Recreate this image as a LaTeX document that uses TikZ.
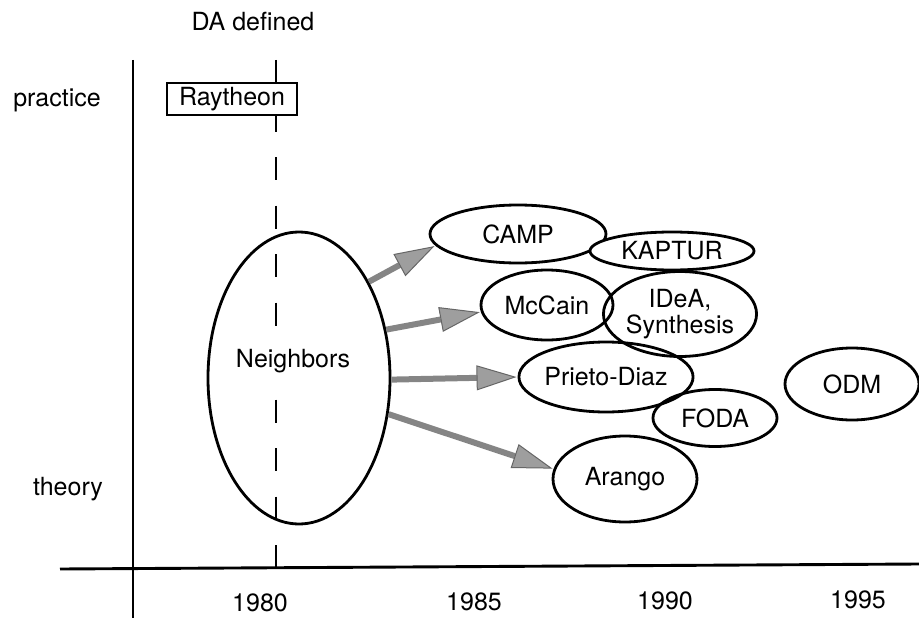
\documentclass[tikz,border=0pt]{standalone}
\usepackage{fontspec}
\setmainfont{TeX Gyre Heros}
\usetikzlibrary{shapes.geometric,arrows.meta}
\tikzset{
  lbl/.style={font=\fontsize{25}{30}\selectfont, inner sep=1pt},
  oval/.style={ellipse, draw, line width=2.8pt, inner sep=0pt, font=\fontsize{25}{30}\selectfont, align=center},
  axis/.style={line width=2.9pt},
  flow/.style={line width=6pt, draw=black!48, -{Triangle[length=40pt,width=25pt,fill=black!38,color=black!60,line width=1pt]}, shorten >=1pt, shorten <=0pt},
}
\begin{document}
\begin{tikzpicture}[x=1pt,y=-1pt]
\useasboundingbox (0,0) rectangle (919,618);
% axes
\coordinate (vtop) at (133,60);
\coordinate (vbot) at (133,618);
\coordinate (hl) at (60,569);
\coordinate (hr) at (919,564);
\draw[axis] (vtop) -- (vbot);
\draw[axis] (hl) -- (hr);
% DA defined dashed line
\coordinate (dtop) at (276,60);
\coordinate (dbot) at (276,568);
\draw[line width=2.9pt, dash pattern=on 23pt off 25.5pt] (dtop) -- (dbot);
\node[lbl] (da) at (253,22) {DA defined};
% side labels
\node[lbl] (prac) at (57,100) {practice};
\node[lbl] (theo) at (68,489) {theory};
% years
\node[lbl] (y80) at (260,603) {1980};
\node[lbl] (y85) at (474,602) {1985};
\node[lbl] (y90) at (665,601) {1990};
\node[lbl] (y95) at (858,600) {1995};
% Raytheon
\node[draw, line width=2.5pt, fill=white, minimum width=130pt, minimum height=32pt, inner sep=0pt, font=\fontsize{25}{30}\selectfont] (ray) at (232,99) {Raytheon};
% Neighbors
\node[oval, minimum width=182pt, minimum height=292pt] (nb) at (299,378) {};
\node[lbl, fill=white] (nbt) at (293,361) {Neighbors};
% targets
\node[oval, minimum width=176pt, minimum height=58pt] (camp) at (518,234) {CAMP};
\node[oval, minimum width=164pt, minimum height=38pt, fill=white] (kap) at (672,251) {KAPTUR};
\node[oval, minimum width=132pt, minimum height=70pt] (mcc) at (547,305) {McCain};
\node[oval, minimum width=134pt, minimum height=85pt] (idea) at (680,314) {IDeA,\\[-4pt]Synthesis};
\node[oval, minimum width=166pt, minimum height=70pt] (pd) at (606,377) {Prieto-Diaz};
\node[oval, minimum width=124pt, minimum height=57pt] (foda) at (715,418) {FODA};
\node[oval, minimum width=134pt, minimum height=72pt] (odm) at (852,384) {ODM};
\node[oval, minimum width=144pt, minimum height=86pt] (ara) at (625,479) {Arango};
% arrows
\draw[flow] (nb.54) -- (camp.188);
\draw[flow] (nb.29) -- (mcc.186);
\draw[flow] (nb.-1) -- (pd.180);
\draw[flow] (nb.-22) -- (ara.172);
\end{tikzpicture}
\end{document}
